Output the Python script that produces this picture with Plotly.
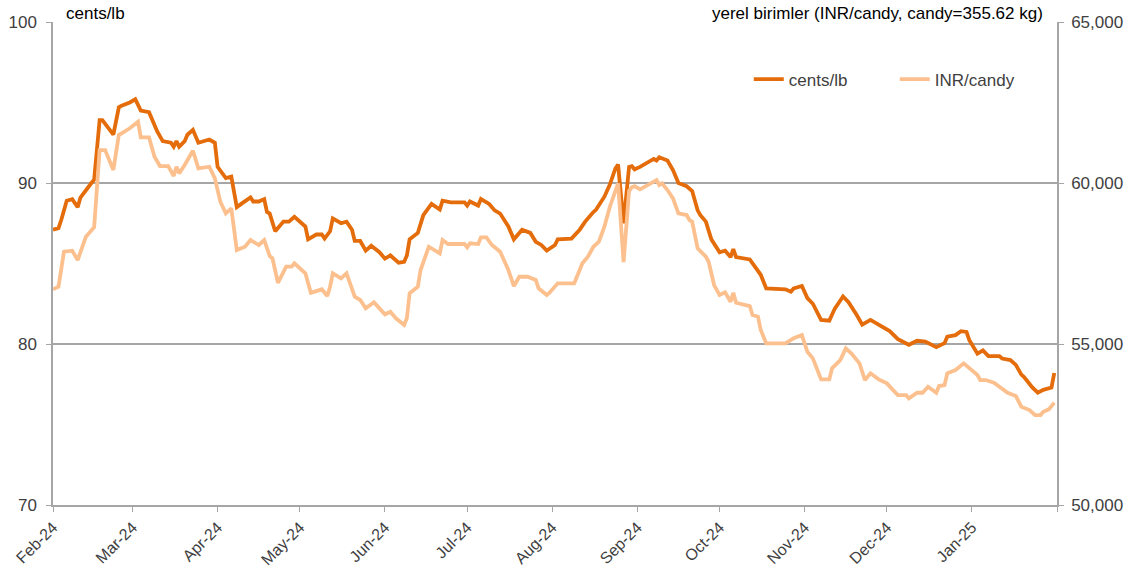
import plotly.graph_objects as go

# ---- data ----
cents_dates = [
    "2024-02-01", "2024-02-03", "2024-02-04", "2024-02-06", "2024-02-08", "2024-02-10", "2024-02-11",
    "2024-02-13", "2024-02-15", "2024-02-16", "2024-02-18", "2024-02-19", "2024-02-23", "2024-02-25",
    "2024-02-26", "2024-02-29", "2024-03-02", "2024-03-04", "2024-03-07", "2024-03-10", "2024-03-12",
    "2024-03-15", "2024-03-16", "2024-03-17", "2024-03-18", "2024-03-20", "2024-03-21", "2024-03-23",
    "2024-03-25", "2024-03-29", "2024-03-31", "2024-04-01", "2024-04-04", "2024-04-06", "2024-04-08",
    "2024-04-10", "2024-04-13", "2024-04-14", "2024-04-16", "2024-04-18", "2024-04-19", "2024-04-20",
    "2024-04-22", "2024-04-25", "2024-04-27", "2024-04-29", "2024-05-02", "2024-05-03", "2024-05-04",
    "2024-05-07", "2024-05-09", "2024-05-10", "2024-05-12", "2024-05-13", "2024-05-16", "2024-05-18",
    "2024-05-20", "2024-05-21", "2024-05-23", "2024-05-25", "2024-05-27", "2024-05-30", "2024-06-01",
    "2024-06-03", "2024-06-06", "2024-06-08", "2024-06-09", "2024-06-10", "2024-06-13", "2024-06-15",
    "2024-06-18", "2024-06-21", "2024-06-22", "2024-06-25", "2024-06-30", "2024-07-01", "2024-07-02",
    "2024-07-05", "2024-07-06", "2024-07-09", "2024-07-11", "2024-07-13", "2024-07-16", "2024-07-18",
    "2024-07-21", "2024-07-24", "2024-07-26", "2024-07-28", "2024-07-30", "2024-08-02", "2024-08-03",
    "2024-08-08", "2024-08-11", "2024-08-13", "2024-08-16", "2024-08-17", "2024-08-20", "2024-08-22",
    "2024-08-24", "2024-08-25", "2024-08-27", "2024-08-29", "2024-08-30", "2024-08-31", "2024-09-02",
    "2024-09-05", "2024-09-07", "2024-09-08", "2024-09-09", "2024-09-12", "2024-09-13", "2024-09-14",
    "2024-09-16", "2024-09-19", "2024-09-21", "2024-09-23", "2024-09-24", "2024-09-26", "2024-09-28",
    "2024-10-01", "2024-10-03", "2024-10-05", "2024-10-06", "2024-10-07", "2024-10-12", "2024-10-14",
    "2024-10-16", "2024-10-18", "2024-10-25", "2024-10-27", "2024-10-28", "2024-10-31", "2024-11-02",
    "2024-11-04", "2024-11-07", "2024-11-10", "2024-11-12", "2024-11-15", "2024-11-17", "2024-11-20",
    "2024-11-22", "2024-11-25", "2024-11-29", "2024-12-02", "2024-12-05", "2024-12-09", "2024-12-12",
    "2024-12-15", "2024-12-19", "2024-12-22", "2024-12-23", "2024-12-26", "2024-12-28", "2024-12-30",
    "2024-12-31", "2025-01-03", "2025-01-05", "2025-01-07", "2025-01-11", "2025-01-12", "2025-01-15",
    "2025-01-17", "2025-01-19", "2025-01-20", "2025-01-23", "2025-01-25", "2025-01-27", "2025-01-30",
    "2025-01-31",
]
cents_values = [
    87.1, 87.2, 87.7, 88.9, 89.0, 88.5, 89.1,
    89.6, 90.0, 90.2, 93.9, 93.9, 93.0, 94.7,
    94.8, 95.0, 95.2, 94.5, 94.4, 93.2, 92.6,
    92.5, 92.25, 92.6, 92.25, 92.6, 93.0, 93.3,
    92.5, 92.7, 92.5, 91.0, 90.3, 90.4, 88.5,
    88.75, 89.1, 88.85, 88.85, 89.0, 88.2, 88.1,
    87.0, 87.6, 87.6, 87.9, 87.4, 87.3, 86.5,
    86.8, 86.8, 86.55, 87.0, 87.8, 87.5, 87.6,
    87.1, 86.4, 86.4, 85.8, 86.1, 85.7, 85.3,
    85.5, 85.05, 85.1, 85.5, 86.5, 86.9, 88.0,
    88.7, 88.35, 88.9, 88.8, 88.8, 88.6, 88.85,
    88.6, 89.0, 88.7, 88.3, 88.1, 87.3, 86.5,
    87.1, 86.9, 86.35, 86.15, 85.8, 86.15, 86.5,
    86.55, 87.1, 87.6, 88.2, 88.35, 89.15, 89.9,
    90.9, 91.15, 87.5, 91.0, 91.05, 90.85, 91.0,
    91.3, 91.5, 91.4, 91.6, 91.4, 91.1, 90.8,
    90.0, 89.8, 89.5, 88.3, 88.0, 87.6, 86.5,
    85.7, 85.8, 85.4, 85.9, 85.4, 85.25, 84.75,
    84.3, 83.45, 83.4, 83.25, 83.45, 83.6, 82.85,
    82.5, 81.5, 81.45, 82.2, 82.95, 82.6, 81.8,
    81.2, 81.5, 81.1, 80.8, 80.3, 79.95, 80.2,
    80.15, 79.8, 80.05, 80.45, 80.55, 80.8, 80.75,
    80.25, 79.4, 79.6, 79.25, 79.25, 79.1, 79.0,
    78.7, 78.1, 77.95, 77.3, 76.98, 77.15, 77.3,
    78.2,
]

inr_dates = [
    "2024-02-01", "2024-02-03", "2024-02-05", "2024-02-08", "2024-02-10", "2024-02-13", "2024-02-16",
    "2024-02-18", "2024-02-20", "2024-02-23", "2024-02-25", "2024-02-26", "2024-02-29", "2024-03-03",
    "2024-03-04", "2024-03-07", "2024-03-09", "2024-03-11", "2024-03-14", "2024-03-16", "2024-03-17",
    "2024-03-18", "2024-03-20", "2024-03-23", "2024-03-25", "2024-03-29", "2024-03-31", "2024-04-02",
    "2024-04-04", "2024-04-06", "2024-04-08", "2024-04-11", "2024-04-13", "2024-04-16", "2024-04-18",
    "2024-04-20", "2024-04-21", "2024-04-23", "2024-04-26", "2024-04-28", "2024-04-29", "2024-05-03",
    "2024-05-05", "2024-05-09", "2024-05-11", "2024-05-12", "2024-05-13", "2024-05-16", "2024-05-18",
    "2024-05-21", "2024-05-23", "2024-05-25", "2024-05-28", "2024-05-30", "2024-06-01", "2024-06-03",
    "2024-06-05", "2024-06-08", "2024-06-09", "2024-06-10", "2024-06-13", "2024-06-14", "2024-06-17",
    "2024-06-21", "2024-06-22", "2024-06-24", "2024-06-28", "2024-06-30", "2024-07-01", "2024-07-02",
    "2024-07-05", "2024-07-06", "2024-07-08", "2024-07-10", "2024-07-13", "2024-07-16", "2024-07-18",
    "2024-07-20", "2024-07-23", "2024-07-26", "2024-07-27", "2024-07-30", "2024-07-31", "2024-08-03",
    "2024-08-09", "2024-08-12", "2024-08-14", "2024-08-16", "2024-08-18", "2024-08-20", "2024-08-22",
    "2024-08-24", "2024-08-25", "2024-08-27", "2024-08-29", "2024-08-30", "2024-08-31", "2024-09-02",
    "2024-09-04", "2024-09-07", "2024-09-08", "2024-09-09", "2024-09-10", "2024-09-12", "2024-09-14",
    "2024-09-16", "2024-09-19", "2024-09-20", "2024-09-21", "2024-09-23", "2024-09-26", "2024-09-27",
    "2024-09-29", "2024-10-01", "2024-10-03", "2024-10-05", "2024-10-06", "2024-10-07", "2024-10-12",
    "2024-10-13", "2024-10-15", "2024-10-16", "2024-10-18", "2024-10-25", "2024-10-28", "2024-10-31",
    "2024-11-02", "2024-11-04", "2024-11-07", "2024-11-10", "2024-11-11", "2024-11-14", "2024-11-16",
    "2024-11-18", "2024-11-21", "2024-11-23", "2024-11-25", "2024-11-28", "2024-12-01", "2024-12-03",
    "2024-12-05", "2024-12-08", "2024-12-09", "2024-12-12", "2024-12-14", "2024-12-16", "2024-12-19",
    "2024-12-20", "2024-12-22", "2024-12-23", "2024-12-26", "2024-12-29", "2024-12-31", "2025-01-03",
    "2025-01-04", "2025-01-06", "2025-01-09", "2025-01-11", "2025-01-14", "2025-01-17", "2025-01-19",
    "2025-01-22", "2025-01-24", "2025-01-26", "2025-01-27", "2025-01-29", "2025-01-31",
]
inr_values = [
    56700, 56780, 57866, 57897, 57608, 58331, 58623,
    61024, 61024, 60403, 61490, 61543, 61699, 61903,
    61419, 61419, 60816, 60527, 60527, 60217, 60506,
    60300, 60558, 61003, 60456, 60506, 60145, 59419,
    59058, 59213, 57918, 58021, 58229, 58074, 58229,
    57732, 57660, 56902, 57400, 57400, 57505, 57195,
    56592, 56698, 56490, 56780, 57195, 57040, 57195,
    56468, 56366, 56107, 56294, 56107, 55921, 56002,
    55797, 55589, 55797, 56573, 56780, 57297, 58021,
    57815, 58229, 58105, 58105, 58105, 58002, 58126,
    58105, 58313, 58313, 58074, 57866, 57297, 56800,
    57089, 57089, 56987, 56729, 56520, 56592, 56884,
    56884, 57505, 57710, 58021, 58176, 58642, 59263,
    59782, 59990, 57546, 59750, 59866, 59906, 59804,
    59906, 60071, 60093, 59937, 59990, 59782, 59524,
    59058, 59005, 58850, 58797, 57971, 57710, 57555,
    56831, 56520, 56604, 56313, 56592, 56281, 56179,
    55900, 55847, 55434, 55021, 55021, 55176, 55278,
    54760, 54554, 53902, 53902, 54244, 54502, 54865,
    54710, 54399, 53880, 54089, 53902, 53778, 53592,
    53415, 53415, 53312, 53486, 53486, 53673, 53486,
    53694, 53725, 54089, 54191, 54399, 54244, 54036,
    53880, 53880, 53797, 53673, 53486, 53384, 53052,
    52949, 52794, 52794, 52897, 52970, 53176,
]

month_ticks = ["2024-02-01", "2024-03-01", "2024-04-01", "2024-05-01", "2024-06-01", "2024-07-01",
               "2024-08-01", "2024-09-01", "2024-10-01", "2024-11-01", "2024-12-01", "2025-01-01"]
month_labels = ["Feb-24", "Mar-24", "Apr-24", "May-24", "Jun-24", "Jul-24",
                "Aug-24", "Sep-24", "Oct-24", "Nov-24", "Dec-24", "Jan-25"]

DARK = "#E46C0A"
LIGHT = "#FCC08F"
GRID = "#A6A6A6"
TXT = "#404040"
FONT = "Liberation Sans, Arial, sans-serif"

fig = go.Figure()
fig.add_trace(go.Scatter(x=inr_dates, y=inr_values, name="INR/candy", mode="lines",
                         line=dict(color=LIGHT, width=3.8), yaxis="y2", legendrank=2,
                         hoverinfo="skip"))
fig.add_trace(go.Scatter(x=cents_dates, y=cents_values, name="cents/lb", mode="lines",
                         line=dict(color=DARK, width=3.8), legendrank=1, hoverinfo="skip"))

fig.update_layout(
    width=1141, height=582,
    margin=dict(l=53, r=84, t=22, b=77),
    paper_bgcolor="white", plot_bgcolor="white",
    font=dict(family=FONT, size=16, color=TXT),
    showlegend=True,
    hovermode=False,
    legend=dict(orientation="h", x=0.693, y=0.881, xanchor="left", yanchor="middle",
                bgcolor="rgba(0,0,0,0)", font=dict(size=17, color=TXT),
                entrywidth=101, entrywidthmode="pixels"),
    xaxis=dict(type="date", range=["2024-02-01", "2025-02-01"], automargin=False,
               tickvals=month_ticks, ticktext=month_labels, tickangle=-45,
               ticks="outside", ticklen=5, tickcolor=GRID, tickfont=dict(size=16, color=TXT),
               showline=True, linecolor=GRID, linewidth=1.5, showgrid=False, zeroline=False,
               minor=dict(ticks="outside", ticklen=5, tickcolor=GRID, dtick="M1",
                          tick0="2024-02-01", showgrid=False)),
    yaxis=dict(range=[70, 100], dtick=10, tick0=70, showgrid=True, gridcolor=GRID, gridwidth=1.5,
               ticks="outside", ticklen=5, tickcolor=GRID, showline=True, linecolor=GRID,
               linewidth=1.5, zeroline=False, tickfont=dict(size=17, color=TXT),
               ticklabelstandoff=6, automargin=False),
    yaxis2=dict(range=[50000, 65000], dtick=5000, tick0=50000, overlaying="y", side="right",
                showgrid=False, ticks="outside", ticklen=5, tickcolor=GRID, showline=True,
                linecolor=GRID, linewidth=1.5, zeroline=False, tickformat=",",
                tickfont=dict(size=17, color=TXT), ticklabelstandoff=4, automargin=False),
)

fig.add_annotation(text="cents/lb", xref="paper", yref="paper", x=0.011, y=1.0,
                   xanchor="left", yanchor="bottom", showarrow=False, yshift=-3,
                   font=dict(size=17, color="#000000", family=FONT))
fig.add_annotation(text="yerel birimler (INR/candy, candy=355.62 kg)", xref="paper", yref="paper",
                   x=0.988, y=1.0, xanchor="right", yanchor="bottom", showarrow=False, yshift=-3,
                   font=dict(size=17, color="#000000", family=FONT))

# remove the browser's default 8px body margin so the figure fills the window exactly
fig.write_html("out.html", config={"displayModeBar": False},
               post_script="document.body.style.margin='0';document.body.style.overflow='hidden';")
